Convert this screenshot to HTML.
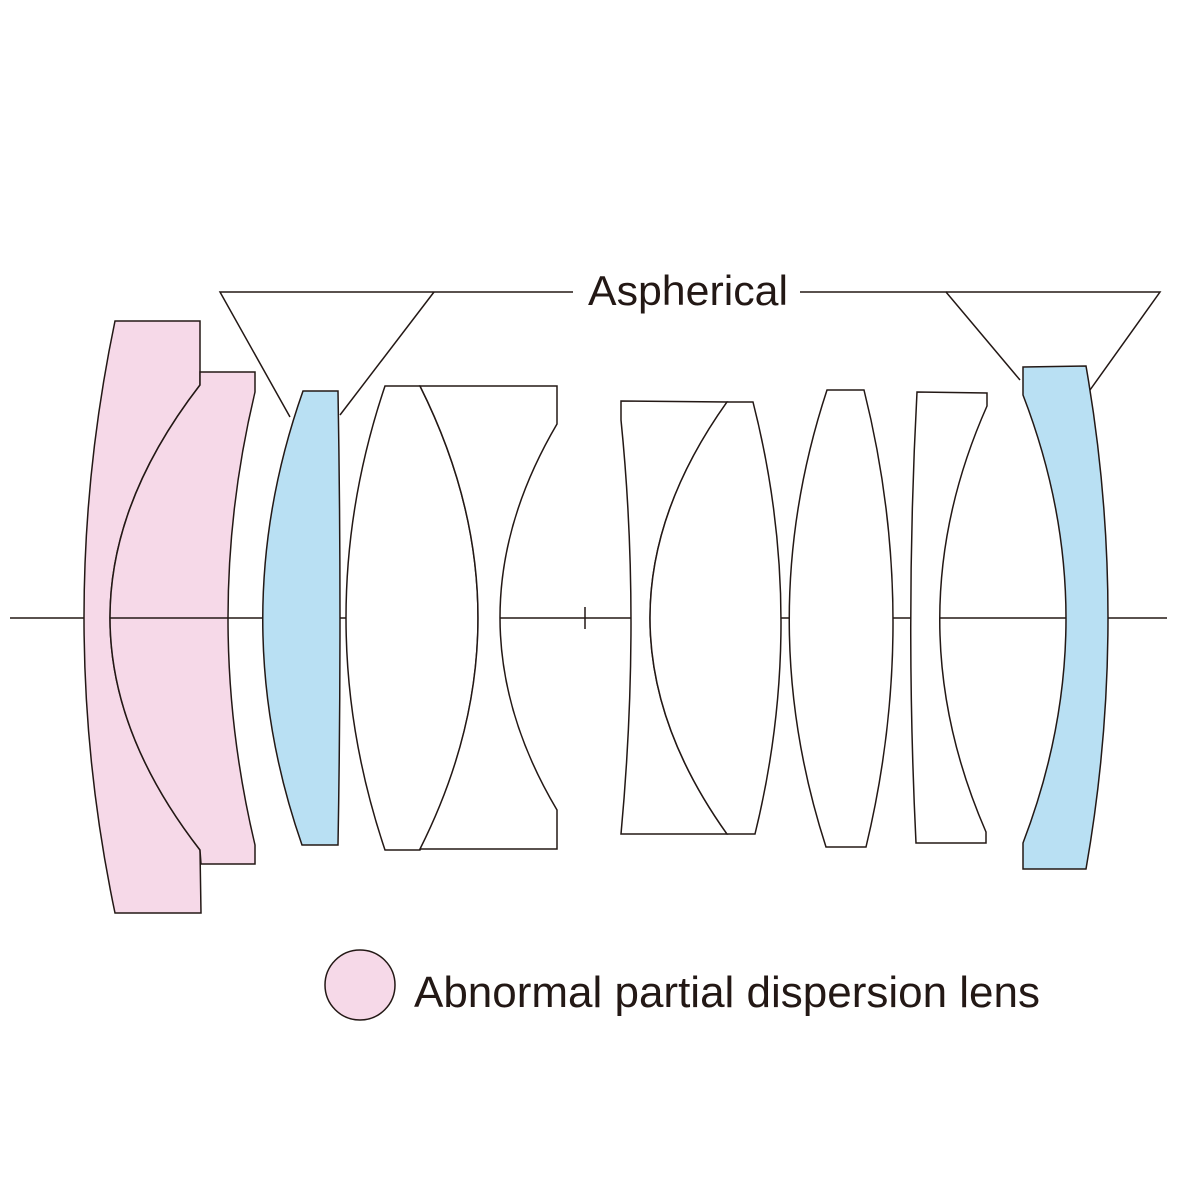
<!DOCTYPE html>
<html><head><meta charset="utf-8"><style>html,body{margin:0;padding:0;background:#fff}</style></head>
<body>
<svg width="1181" height="1181" viewBox="0 0 1181 1181" xmlns="http://www.w3.org/2000/svg">
<rect width="1181" height="1181" fill="#fff"/>
<g stroke="#231815" stroke-width="1.5" fill="none">
<line x1="10" y1="618" x2="1167" y2="618"/>
<line x1="585" y1="607" x2="585" y2="629"/>
<path d="M115,321 L200,321 L200,385 Q20,618 200,850 L201,913 L115,913 Q53,618 115,321 Z" fill="#f6d9e8"/>
<path d="M200,372 L255,372 L255,392 Q201,618 255,845 L255,864 L201,864 L200,850 Q20,618 200,385 Z" fill="#f6d9e8"/>
<line x1="110" y1="618" x2="228" y2="618"/>
<path d="M303,391 L338,391 Q342,618 338,845 L302,845 Q223,618 303,391 Z" fill="#b9e0f3"/>
<path d="M385,386 L420,386 Q536,618 420,850 L385,850 Q307,618 385,386 Z" fill="#fff"/>
<path d="M420,386 L557,386 L557,424 Q443,618 557,810 L557,849 L420,849 Q536,618 420,386 Z" fill="#fff"/>
<path d="M621,401 L727,402 Q573,618 727,834 L621,834 Q641,618 621,420 Z" fill="#fff"/>
<path d="M727,402 L753,402 Q808,618 755,834 L727,834 Q573,618 727,402 Z" fill="#fff"/>
<path d="M827,390 L864,390 Q921,618 866,847 L826,847 Q752,618 827,390 Z" fill="#fff"/>
<path d="M917,392 L987,393 L987,406 Q893,618 986,832 L986,843 L916,843 Q905,618 917,392 Z" fill="#fff"/>
<path d="M1023,367 L1086,366 Q1130,618 1086,869 L1023,869 L1023,843 Q1109,618 1023,395 Z" fill="#b9e0f3"/>
<polyline points="290,417 220,292 573,292"/>
<line x1="434" y1="292" x2="340" y2="415"/>
<polyline points="1020,380 946,292 800,292"/>
<polyline points="946,292 1160,292 1090,390"/>
<circle cx="360" cy="985" r="35" fill="#f6d9e8"/>
</g>
<g font-family="Liberation Sans, sans-serif" fill="#231815">
<text x="588" y="305" font-size="42" textLength="200" lengthAdjust="spacingAndGlyphs">Aspherical</text>
<text x="414" y="1007" font-size="44" textLength="626" lengthAdjust="spacingAndGlyphs">Abnormal partial dispersion lens</text>
</g>
</svg>
</body></html>
